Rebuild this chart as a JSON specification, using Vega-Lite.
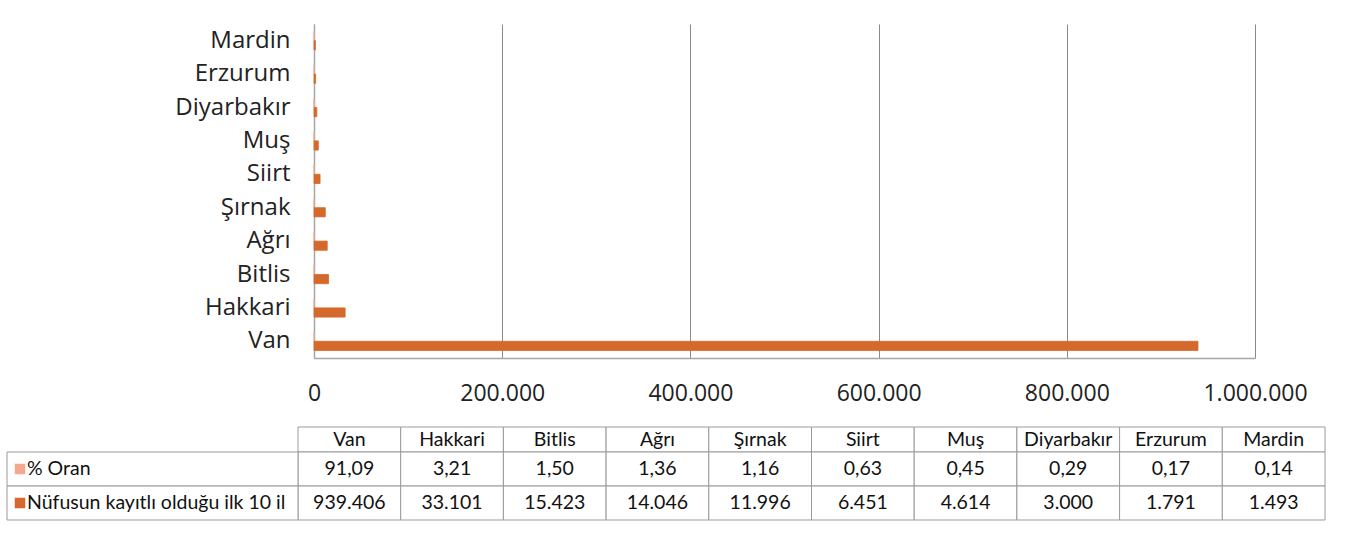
{
  "$schema": "https://vega.github.io/schema/vega-lite/v6.json",
  "width": 941,
  "height": 334,
  "autosize": {"type": "none"},
  "padding": {"left": 314, "top": 24, "right": 91, "bottom": 176},
  "background": "white",
  "config": {
    "locale": {"number": {"decimal": ",", "thousands": ".", "grouping": [3], "currency": ["", " TL"]}},
    "view": {"stroke": null},
    "font": "Open Sans"
  },
  "data": {
    "values": [
      {"il": "Van", "oran": 91.09, "nufus": 939406},
      {"il": "Hakkari", "oran": 3.21, "nufus": 33101},
      {"il": "Bitlis", "oran": 1.50, "nufus": 15423},
      {"il": "Ağrı", "oran": 1.36, "nufus": 14046},
      {"il": "Şırnak", "oran": 1.16, "nufus": 11996},
      {"il": "Siirt", "oran": 0.63, "nufus": 6451},
      {"il": "Muş", "oran": 0.45, "nufus": 4614},
      {"il": "Diyarbakır", "oran": 0.29, "nufus": 3000},
      {"il": "Erzurum", "oran": 0.17, "nufus": 1791},
      {"il": "Mardin", "oran": 0.14, "nufus": 1493}
    ]
  },
  "layer": [
    {
      "transform": [{"fold": ["oran", "nufus"], "as": ["seri", "deger"]}],
      "mark": {"type": "bar", "strokeWidth": 0.8},
      "encoding": {
        "x": {
          "field": "deger", "type": "quantitative",
          "scale": {"domain": [0, 1000000], "nice": false},
          "axis": {
            "title": null, "values": [0, 200000, 400000, 600000, 800000, 1000000],
            "format": ",d", "grid": true, "gridColor": "#8a8a8a", "gridWidth": 1,
            "domainColor": "#a6a6a6", "domainWidth": 1.5, "ticks": false,
            "labelFontSize": 23, "labelColor": "#222222", "labelPadding": 24,
            "labelFlush": false, "labelFont": "Open Sans"
          }
        },
        "y": {
          "field": "il", "type": "nominal",
          "sort": ["Mardin", "Erzurum", "Diyarbakır", "Muş", "Siirt", "Şırnak", "Ağrı", "Bitlis", "Hakkari", "Van"],
          "scale": {"paddingInner": 0.45, "paddingOuter": 0.225},
          "axis": {
            "title": null, "ticks": false, "tickSize": 0, "labelFontSize": 24,
            "labelPadding": 24, "domainColor": "#a6a6a6", "domainWidth": 1.5,
            "labelColor": "#222222", "grid": false, "labelFont": "Open Sans"
          }
        },
        "yOffset": {"field": "seri", "type": "nominal", "sort": ["oran", "nufus"], "scale": {"paddingInner": 0}},
        "color": {"field": "seri", "type": "nominal", "scale": {"domain": ["oran", "nufus"], "range": ["#F4A98F", "#D5692B"]}, "legend": null},
        "stroke": {"field": "seri", "type": "nominal", "scale": {"domain": ["oran", "nufus"], "range": ["#F4A98F", "#D5692B"]}, "legend": null}
      }
    },
    {
      "mark": {"type": "rect", "fill": "white", "stroke": "#9a9a9a", "strokeWidth": 1},
      "encoding": {
        "x": {"field": "il", "type": "nominal", "scale": {"type": "band", "domain": ["Van", "Hakkari", "Bitlis", "Ağrı", "Şırnak", "Siirt", "Muş", "Diyarbakır", "Erzurum", "Mardin"], "range": [-16, 1011], "paddingInner": 0, "paddingOuter": 0}, "axis": null},
        "y": {"datum": "header", "type": "nominal", "scale": {"type": "band", "domain": ["header"], "range": [403, 428], "paddingInner": 0, "paddingOuter": 0}, "axis": null}
      }
    },
    {
      "transform": [{"fold": ["oran", "nufus"], "as": ["seri", "deger"]}],
      "mark": {"type": "rect", "fill": "white", "stroke": "#9a9a9a", "strokeWidth": 1},
      "encoding": {
        "x": {"field": "il", "type": "nominal", "scale": {"type": "band", "domain": ["Van", "Hakkari", "Bitlis", "Ağrı", "Şırnak", "Siirt", "Muş", "Diyarbakır", "Erzurum", "Mardin"], "range": [-16, 1011], "paddingInner": 0, "paddingOuter": 0}, "axis": null},
        "y": {"field": "seri", "type": "nominal", "scale": {"type": "band", "domain": ["oran", "nufus"], "range": [428, 496], "paddingInner": 0, "paddingOuter": 0}, "axis": null}
      }
    },
    {
      "data": {"values": [{"seri": "oran", "etiket": "% Oran"}, {"seri": "nufus", "etiket": "Nüfusun kayıtlı olduğu ilk 10 il"}]},
      "layer": [
        {
          "mark": {"type": "rect", "fill": "white", "stroke": "#9a9a9a", "strokeWidth": 1},
          "encoding": {
            "x": {"datum": "etiket", "type": "nominal", "scale": {"type": "band", "domain": ["etiket"], "range": [-307, -16], "paddingInner": 0, "paddingOuter": 0}, "axis": null},
            "y": {"field": "seri", "type": "nominal", "scale": {"type": "band", "domain": ["oran", "nufus"], "range": [428, 496], "paddingInner": 0, "paddingOuter": 0}, "axis": null}
          }
        },
        {
          "mark": {"type": "square", "size": 110, "opacity": 1, "xOffset": 13},
          "encoding": {
            "x": {"datum": "etiket", "type": "nominal", "bandPosition": 0, "scale": {"type": "band", "domain": ["etiket"], "range": [-307, -16], "paddingInner": 0, "paddingOuter": 0}, "axis": null},
            "y": {"field": "seri", "type": "nominal", "scale": {"type": "band", "domain": ["oran", "nufus"], "range": [428, 496], "paddingInner": 0, "paddingOuter": 0}, "axis": null},
            "color": {"field": "seri", "type": "nominal", "scale": {"domain": ["oran", "nufus"], "range": ["#F4A98F", "#D5692B"]}, "legend": null}
          }
        },
        {
          "mark": {"type": "text", "align": "left", "baseline": "middle", "dx": 20, "font": "Lato", "fontSize": 19.5, "color": "#111111"},
          "encoding": {
            "x": {"datum": "etiket", "type": "nominal", "bandPosition": 0, "scale": {"type": "band", "domain": ["etiket"], "range": [-307, -16], "paddingInner": 0, "paddingOuter": 0}, "axis": null},
            "y": {"field": "seri", "type": "nominal", "scale": {"type": "band", "domain": ["oran", "nufus"], "range": [428, 496], "paddingInner": 0, "paddingOuter": 0}, "axis": null},
            "text": {"field": "etiket", "type": "nominal"}
          }
        }
      ],
      "resolve": {"scale": {"x": "independent", "y": "independent", "color": "independent"}}
    },
    {
      "mark": {"type": "text", "align": "center", "baseline": "middle", "font": "Lato", "fontSize": 19.5, "color": "#111111"},
      "encoding": {
        "x": {"field": "il", "type": "nominal", "scale": {"type": "band", "domain": ["Van", "Hakkari", "Bitlis", "Ağrı", "Şırnak", "Siirt", "Muş", "Diyarbakır", "Erzurum", "Mardin"], "range": [-16, 1011], "paddingInner": 0, "paddingOuter": 0}, "axis": null},
        "y": {"datum": "header", "type": "nominal", "scale": {"type": "band", "domain": ["header"], "range": [403, 428], "paddingInner": 0, "paddingOuter": 0}, "axis": null},
        "text": {"field": "il", "type": "nominal"}
      }
    },
    {
      "mark": {"type": "text", "align": "center", "baseline": "middle", "font": "Lato", "fontSize": 19.5, "color": "#111111"},
      "encoding": {
        "x": {"field": "il", "type": "nominal", "scale": {"type": "band", "domain": ["Van", "Hakkari", "Bitlis", "Ağrı", "Şırnak", "Siirt", "Muş", "Diyarbakır", "Erzurum", "Mardin"], "range": [-16, 1011], "paddingInner": 0, "paddingOuter": 0}, "axis": null},
        "y": {"datum": "oran", "type": "nominal", "scale": {"type": "band", "domain": ["oran", "nufus"], "range": [428, 496], "paddingInner": 0, "paddingOuter": 0}, "axis": null},
        "text": {"field": "oran", "type": "quantitative", "format": ".2f"}
      }
    },
    {
      "mark": {"type": "text", "align": "center", "baseline": "middle", "font": "Lato", "fontSize": 19.5, "color": "#111111"},
      "encoding": {
        "x": {"field": "il", "type": "nominal", "scale": {"type": "band", "domain": ["Van", "Hakkari", "Bitlis", "Ağrı", "Şırnak", "Siirt", "Muş", "Diyarbakır", "Erzurum", "Mardin"], "range": [-16, 1011], "paddingInner": 0, "paddingOuter": 0}, "axis": null},
        "y": {"datum": "nufus", "type": "nominal", "scale": {"type": "band", "domain": ["oran", "nufus"], "range": [428, 496], "paddingInner": 0, "paddingOuter": 0}, "axis": null},
        "text": {"field": "nufus", "type": "quantitative", "format": ",d"}
      }
    }
  ],
  "resolve": {"scale": {"x": "independent", "y": "independent", "color": "independent", "stroke": "independent"}}
}
